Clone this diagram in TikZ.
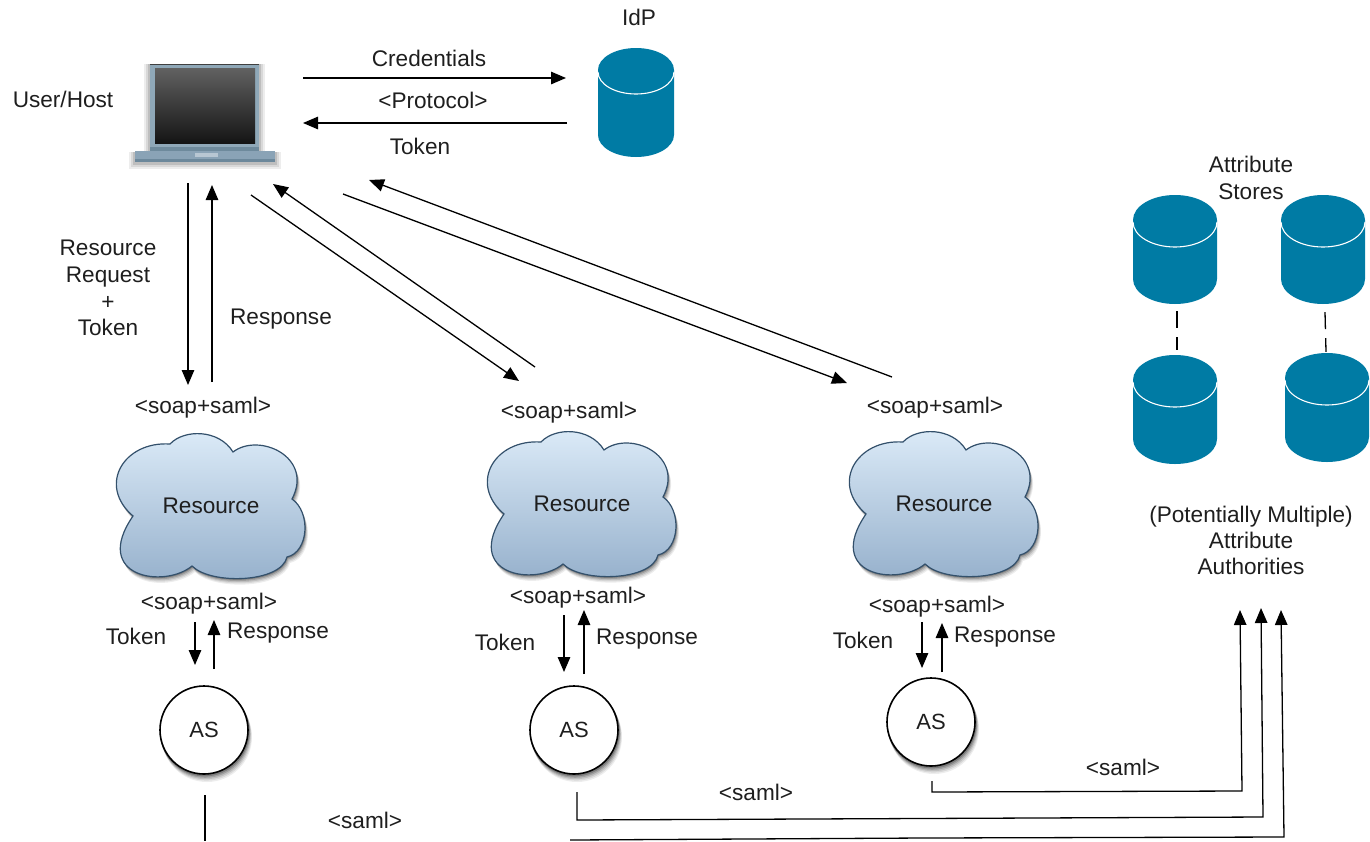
\documentclass[tikz,border=0pt]{standalone}
\usepackage{fontspec}
\setmainfont{Liberation Sans}
\usetikzlibrary{arrows.meta}
\definecolor{dbblue}{HTML}{007BA4}
\definecolor{txt}{HTML}{1E1E1E}
\definecolor{framec}{HTML}{8FA8B8}
\definecolor{framed}{HTML}{6E8A9C}
\definecolor{basec}{HTML}{8AA3B6}
\definecolor{based}{HTML}{6C889B}
\tikzset{
  conn/.style={line width=1.3pt,draw=black,-{Triangle[length=15pt,width=12.5pt]}},
  plainline/.style={line width=1.3pt,draw=black},
  lbl/.style={font=\fontsize{22.6}{26}\selectfont,text=txt,inner sep=0pt,align=center},
  asnode/.style={circle,minimum size=88pt,inner sep=0pt,draw=black,line width=1.6pt,fill=white,font=\fontsize{22}{25}\selectfont,text=txt},
  cloudtext/.style={font=\fontsize{22.6}{26}\selectfont,text=txt,inner sep=0pt}
}
\newcommand{\cloudoutline}{(-76,9) .. controls (-112,-22) and (-85,-66) .. (-39,-63)
  .. controls (-25,-78) and (10,-78) .. (24,-55)
  .. controls (50,-75) and (105,-50) .. (83,-8)
  .. controls (102,5) and (100,45) .. (78,50)
  .. controls (72,76) and (2,78) .. (-17,59)
  .. controls (-45,82) and (-118,70) .. (-76,9) -- cycle}
\newcommand{\resourcecloud}[3]{%
  \begin{scope}[shift={(#2,#3)}]
    \foreach \s/\o in {10/0.07,8/0.09,6/0.12,4/0.16,2/0.22}{
      \fill[black,opacity=\o,shift={(0.3*\s,0.6*\s)}] \cloudoutline;
    }
    \shade[top color=cloudtop,bottom color=cloudbot,draw=clouddraw,line width=1.2pt] \cloudoutline;
    \node[cloudtext] (#1) at (2,-1) {Resource};
  \end{scope}}
\definecolor{cloudtop}{HTML}{DCEBF8}
\definecolor{cloudbot}{HTML}{93AECA}
\definecolor{clouddraw}{HTML}{33506B}
\newcommand{\store}[6]{% name, cx, top, rx, ry, height
  \begin{scope}[shift={(#2,#3)}]
    \fill[dbblue] (-#4,#5) -- (-#4,#6-#5) arc[start angle=180,end angle=360,x radius=#4,y radius=-#5] -- (#4,#5) arc[start angle=0,end angle=180,x radius=#4,y radius=-#5] -- cycle;
    \draw[white,line width=1.1pt] (-#4,#5+2) arc[start angle=180,end angle=360,x radius=#4,y radius=-#5];
    \node[inner sep=0pt,minimum width=2*#4 pt,minimum height=#6 pt] (#1) at (0,#6/2) {};
  \end{scope}}
\newcommand{\asshadow}[2]{%
  \foreach \s/\o in {10/0.07,8/0.09,6/0.12,4/0.16,2/0.22}{
    \fill[black,opacity=\o] (#1+0.3*\s,#2+0.7*\s) circle[radius=45];
  }}
\begin{document}
\begin{tikzpicture}[x=1pt,y=-1pt]
\useasboundingbox (0,0) rectangle (1370,841);
% laptop
\foreach \s/\o in {6/0.07,4/0.09,2/0.12}{
  \fill[black,opacity=\o] (150-\s,64) rectangle (259+\s,152);
  \fill[black,opacity=\o] (135-\s,152) rectangle (275+\s,163+\s);
}
\fill[framec] (150,64) rectangle (259,151);
\fill[framed] (150,147) rectangle (259,151);
\draw[black!75,line width=.8pt] (150,64) -- (259,64);
\shade[top color=black!62,bottom color=black!92,draw=none] (155,68) rectangle (255,143);
\fill[basec] (135,151) rectangle (275,162);
\fill[based] (135,159) rectangle (275,162);
\fill[white,opacity=.4] (195,153) rectangle (218,157);
\node[inner sep=0pt,minimum width=140pt,minimum height=98pt] (host) at (205,113) {};
% stores
\store{idp}{636}{48}{38}{22}{109}
\store{st1}{1175}{195}{42}{25}{109}
\store{st2}{1323}{195}{42}{25}{109}
\store{st3}{1175}{355}{42}{25}{109}
\store{st4}{1327}{353}{42}{25}{109}
\draw[plainline,dash pattern=on 17pt off 9pt] ([xshift=2pt,yshift=-7pt]st1.south) -- ([xshift=2pt,yshift=5pt]st3.north);
\draw[plainline,dash pattern=on 17pt off 9pt] ([xshift=2pt,yshift=-8pt]st2.south) -- ([xshift=-1pt,yshift=1pt]st4.north);
% clouds
\resourcecloud{res1}{209}{507}
\resourcecloud{res2}{580}{505}
\resourcecloud{res3}{942}{505}
% AS
\asshadow{204}{730}\asshadow{574}{730}\asshadow{931}{722}
\node[asnode] (as1) at (204,730) {AS};
\node[asnode] (as2) at (574,730) {AS};
\node[asnode] (as3) at (931,722) {AS};
% coordinates
\coordinate (c1a) at (303,78); \coordinate (c1b) at (566,78);
\coordinate (c2a) at (567,123); \coordinate (c2b) at (303,123);
\coordinate (r1a) at (188,183); \coordinate (r1b) at (188,385);
\coordinate (r2a) at (212,382); \coordinate (r2b) at (212,185);
\coordinate (d1a) at (251,195); \coordinate (d1b) at (519,381);
\coordinate (d2a) at (535,367); \coordinate (d2b) at (273,184);
\coordinate (e1a) at (343,194); \coordinate (e1b) at (847,383);
\coordinate (e2a) at (892,377); \coordinate (e2b) at (369,180);
\coordinate (t1a) at (195,622); \coordinate (t1b) at (195,665);
\coordinate (u1a) at (214,669); \coordinate (u1b) at (214,620);
\coordinate (t2a) at (564,615); \coordinate (t2b) at (564,672);
\coordinate (u2a) at (584,674); \coordinate (u2b) at (584,610);
\coordinate (t3a) at (922,622); \coordinate (t3b) at (922,668);
\coordinate (u3a) at (942,672); \coordinate (u3b) at (942,623);
\coordinate (asb1) at (205,795); \coordinate (asb1e) at (205,841);
\coordinate (asb2) at (577,792); \coordinate (k2a) at (577,820); \coordinate (k2b) at (1263,817); \coordinate (k2c) at (1261,608);
\coordinate (asb3) at (932,781); \coordinate (k3a) at (932,792); \coordinate (k3b) at (1242,791); \coordinate (k3c) at (1240,610);
\coordinate (kfa) at (570,840); \coordinate (kfm) at (923,838); \coordinate (kfb) at (1284,837); \coordinate (kfc) at (1281,610);
% connectors
\draw[conn] (c1a) -- (c1b);
\draw[conn] (c2a) -- (c2b);
\draw[conn] (r1a) -- (r1b);
\draw[conn] (r2a) -- (r2b);
\draw[conn] (d1a) -- (d1b);
\draw[conn] (d2a) -- (d2b);
\draw[conn] (e1a) -- (e1b);
\draw[conn] (e2a) -- (e2b);
\draw[conn] (t1a) -- (t1b);
\draw[conn] (u1a) -- (u1b);
\draw[conn] (t2a) -- (t2b);
\draw[conn] (u2a) -- (u2b);
\draw[conn] (t3a) -- (t3b);
\draw[conn] (u3a) -- (u3b);
\draw[plainline] (asb1) -- (asb1e);
\draw[conn] (asb2) -- (k2a) -- (k2b) -- (k2c);
\draw[conn] (asb3) -- (k3a) -- (k3b) -- (k3c);
\draw[conn] (kfa) -- (kfm) -- (kfb) -- (kfc);
% labels
\node[lbl] (l1) at (63,99) {User/Host};
\node[lbl] (l2) at (429,58) {Credentials};
\node[lbl] (l3) at (433,100) {<Protocol>};
\node[lbl] (l4) at (420,146) {Token};
\node[lbl] (l5) at (639,17) {IdP};
\node[lbl,font=\fontsize{22.6}{26.7}\selectfont] (l6) at (108,288) {Resource\\Request\\+\\Token};
\node[lbl] (l7) at (281,319) {Response};
\node[lbl] (s1) at (203,408) {<soap+saml>};
\node[lbl] (s2) at (569,413) {<soap+saml>};
\node[lbl] (s3) at (935,408) {<soap+saml>};
\node[lbl] (s4) at (209,604) {<soap+saml>};
\node[lbl] (s5) at (578,598) {<soap+saml>};
\node[lbl] (s6) at (937,607) {<soap+saml>};
\node[lbl] (k1) at (136,636) {Token};
\node[lbl] (p1) at (278,633) {Response};
\node[lbl] (k2) at (505,642) {Token};
\node[lbl] (p2) at (647,639) {Response};
\node[lbl] (k3) at (863,640) {Token};
\node[lbl] (p3) at (1005,637) {Response};
\node[lbl] (m1) at (365,820) {<saml>};
\node[lbl] (m2) at (756,792) {<saml>};
\node[lbl] (m3) at (1123,767) {<saml>};
\node[lbl,font=\fontsize{22.6}{27}\selectfont] (a1) at (1251,178) {Attribute\\Stores};
\node[lbl,font=\fontsize{22.6}{26}\selectfont] (a2) at (1251,540) {(Potentially Multiple)\\Attribute\\Authorities};
\end{tikzpicture}
\end{document}
